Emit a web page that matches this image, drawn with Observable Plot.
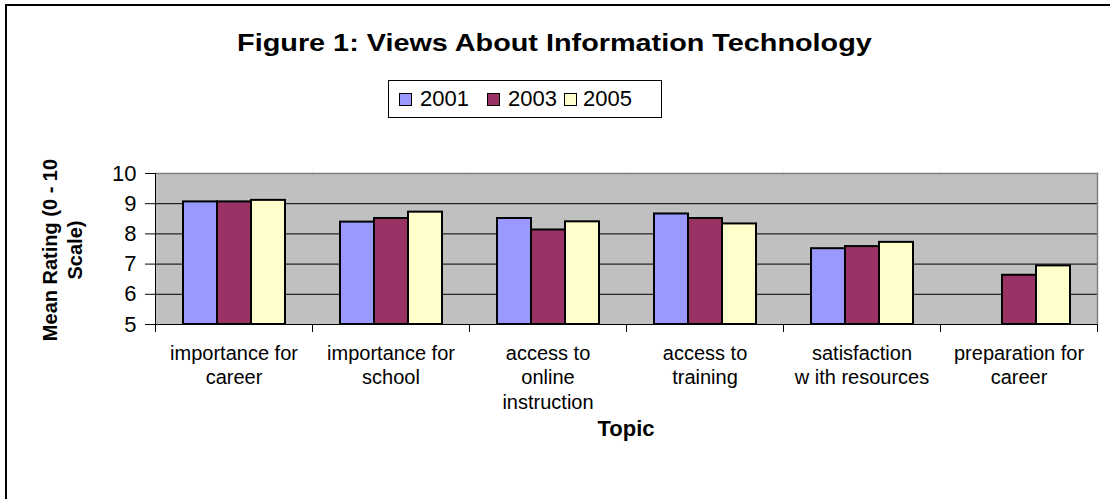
<!DOCTYPE html>
<html><head><meta charset="utf-8">
<script src="https://cdn.jsdelivr.net/npm/d3@7"></script>
<script src="https://cdn.jsdelivr.net/npm/@observablehq/plot@0.6"></script>
<style>
body{margin:0;background:#fff;font-family:"Liberation Sans",Arial,sans-serif;color:#000;}
#wrap{position:relative;width:1110px;height:499px;overflow:hidden;background:#fff;}
#border{position:absolute;left:5px;top:4px;width:1200px;height:600px;border-top:2px solid #000;border-left:2px solid #000;}
#chart{position:absolute;left:0;top:0;}
#title{position:absolute;left:0;width:1110px;top:28px;text-align:center;font-weight:bold;font-size:24px;line-height:30px;}
#title span{display:inline-block;transform:scaleX(1.2);transform-origin:center;margin-left:-2px;}
#legend{position:absolute;left:388px;top:80px;width:272px;height:36px;border:1px solid #000;background:#fff;}
.item{position:absolute;top:0;height:36px;line-height:36px;font-size:22px;}
.sw{position:absolute;top:12px;width:11px;height:11px;border:1px solid #000;}
.lab{position:absolute;white-space:nowrap;}
#ylab{position:absolute;left:63px;top:250px;width:260px;transform:translate(-50%,-50%) rotate(-90deg);text-align:center;font-weight:bold;font-size:20px;line-height:25px;}
#xlab{position:absolute;left:526px;width:200px;top:416px;text-align:center;font-weight:bold;font-size:22px;line-height:26px;}
</style>
</head><body>
<div id="wrap">
  <div id="border"></div>
  <div id="chart"></div>
  <div id="title"><span>Figure 1: Views About Information Technology</span></div>
  <div id="legend"></div>
  <div id="ylab">Mean Rating (0 - 10<br>Scale)</div>
  <div id="xlab">Topic</div>
</div>
<script>
const topics = ["importance for career", "importance for school", "access to online instruction", "access to training", "satisfaction with resources", "preparation for career"];
const topicLabels = ["importance for\ncareer", "importance for\nschool", "access to\nonline\ninstruction", "access to\ntraining", "satisfaction\nw ith resources", "preparation for\ncareer"];
const years = ["2001", "2003", "2005"];
const v2001 = [9.06, 8.39, 8.51, 8.66, 7.51, null];
const v2003 = [9.06, 8.51, 8.13, 8.51, 7.58, 6.63];
const v2005 = [9.11, 8.72, 8.40, 8.33, 7.72, 6.94];
const colors = ["#9999FF", "#993366", "#FFFFCC"];
const yTicks = [5, 6, 7, 8, 9, 10];
const yMin = 5, yMax = 10;

const series = [v2001, v2003, v2005];
const table = [];
topics.forEach((t, i) => {
  years.forEach((y, j) => {
    const v = series[j][i];
    if (v != null) table.push({topic: t, year: y, value: v});
  });
});

const chart = Plot.plot({
  width: 1110,
  height: 499,
  marginTop: 173,
  marginBottom: 175,
  marginLeft: 153,
  marginRight: 11,
  style: {fontFamily: "'Liberation Sans', Arial, sans-serif", color: "#000", background: "transparent", overflow: "visible"},
  fx: {domain: topics, padding: 0},
  x: {domain: years, paddingInner: 0, paddingOuter: 0.75, axis: null},
  y: {domain: [yMin, yMax]},
  color: {domain: years, range: colors},
  marks: [
    Plot.frame({fill: "#c0c0c0", stroke: "#c0c0c0"}),
    Plot.ruleY(yTicks.filter(d => d > yMin && d < yMax), {stroke: "#000", strokeWidth: 1}),
    Plot.frame({anchor: "top", stroke: "#808080", strokeWidth: 1.5}),
    Plot.frame({anchor: "right", stroke: "#808080", strokeWidth: 1.5, facetAnchor: "right"}),
    Plot.barY(table, {fx: "topic", x: "year", y1: yMin, y2: "value", fill: "year", stroke: "#000", strokeWidth: 2}),
    Plot.frame({anchor: "bottom", stroke: "#000"}),
    Plot.frame({anchor: "left", stroke: "#000", facetAnchor: "left"}),
    Plot.frame({anchor: "left", stroke: "#000", insetTop: 151, insetBottom: -7}),
    Plot.frame({anchor: "right", stroke: "#000", insetTop: 151, insetBottom: -7, facetAnchor: "right"}),
    Plot.axisY({ticks: yTicks, tickSize: 10, tickPadding: 9, fontSize: 22, label: null, tickFormat: d => String(d)}),
    Plot.axisFx({anchor: "bottom", tickSize: 0, tickPadding: 18, fontSize: 20, lineHeight: 1.22, label: null,
      tickFormat: d => topicLabels[topics.indexOf(d)]})
  ]
});
document.getElementById("chart").appendChild(chart);

const legend = document.getElementById("legend");
const swX = [10, 98, 175];
const labX = [31, 119, 194];
years.forEach((y, j) => {
  const sw = document.createElement("div");
  sw.className = "sw";
  sw.style.left = swX[j] + "px";
  sw.style.background = colors[j];
  legend.appendChild(sw);
  const lab = document.createElement("div");
  lab.className = "item lab";
  lab.style.left = labX[j] + "px";
  lab.textContent = y;
  legend.appendChild(lab);
});
</script>
</body></html>
